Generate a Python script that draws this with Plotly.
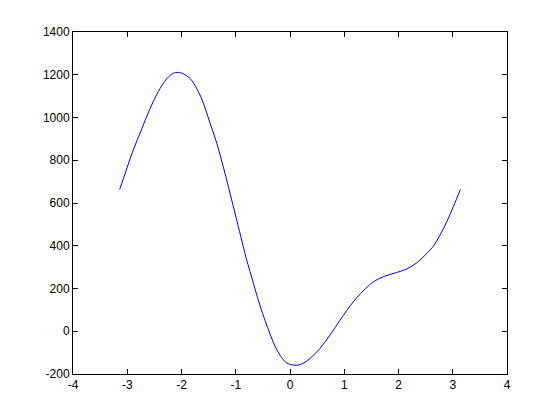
import plotly.graph_objects as go

x_vals = [-3.14, -3.04, -2.89, -2.73, -2.58, -2.43, -2.27, -2.15, -2.07, -2.0, -1.84, -1.65,
          -1.475, -1.35, -1.23, -1.137, -1.045, -0.953, -0.861, -0.811, -0.737, -0.645,
          -0.553, -0.46, -0.369, -0.276, -0.184, -0.061, 0.092, 0.216, 0.369, 0.553,
          0.737, 0.922, 1.167, 1.35, 1.536, 1.72, 1.966, 2.15, 2.335, 2.49, 2.64, 2.765,
          2.89, 3.01, 3.14]
y_vals = [663, 738, 847, 948, 1042, 1120, 1182, 1207, 1211, 1208, 1182, 1100,
          975, 880, 770, 677, 584, 490, 396, 345, 280, 198,
          120, 50, -12, -70, -112, -148, -159, -153, -127, -80,
          -18, 52, 138, 189, 231, 255, 275, 291, 320, 356, 397, 450,
          512, 582, 663]

x_ticks = [-4, -3, -2, -1, 0, 1, 2, 3, 4]
y_ticks = [-200, 0, 200, 400, 600, 800, 1000, 1200, 1400]

fig = go.Figure()
fig.add_trace(go.Scatter(x=x_vals, y=y_vals, mode="lines",
                         line=dict(color="#0000ff", width=1, shape="spline", smoothing=1.0),
                         showlegend=False, hoverinfo="skip"))

axis_common = dict(showgrid=False, zeroline=False, showline=True, linecolor="black",
                   linewidth=1, mirror="ticks", ticks="inside", ticklen=5,
                   tickcolor="black", tickwidth=1,
                   tickfont=dict(family="Liberation Sans, Arial, sans-serif", size=12, color="black"))

# page body has an 8px default margin; compensate so the axes sit where the reference has them
fig.update_layout(
    width=560, height=420,
    margin=dict(l=65, r=61, t=24, b=54, pad=0),
    paper_bgcolor="white", plot_bgcolor="white",
    xaxis=dict(range=[-4, 4], tickvals=x_ticks, ticktext=[str(v) for v in x_ticks], **axis_common),
    yaxis=dict(range=[-200, 1400], tickvals=y_ticks, ticktext=[str(v) for v in y_ticks], **axis_common),
)

fig.write_html("out.html")
